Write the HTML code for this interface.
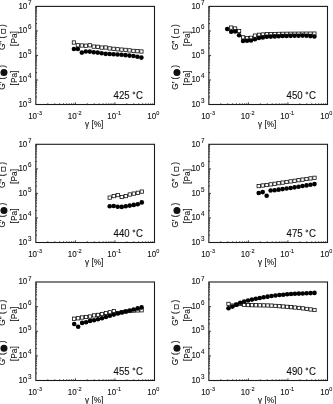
<!DOCTYPE html><html><head><meta charset="utf-8"><style>html,body{margin:0;padding:0;background:#fff;}svg{display:block;filter:grayscale(100%)}</style></head><body>
<svg width="333" height="404" viewBox="0 0 333 404" font-family='"Liberation Sans", sans-serif'>
<rect width="333" height="404" fill="#fff"/>
<g><rect x="35.85" y="6.4" width="118.65" height="98.1" fill="none" stroke="#1a1a1a" stroke-width="1.1"/><path d="M35.85 97.12h1.2M35.85 92.8h1.2M35.85 89.73h1.2M35.85 87.36h1.2M35.85 85.42h1.2M35.85 83.77h1.2M35.85 82.35h1.2M35.85 81.1h1.2M35.85 79.97h2.2M35.85 72.59h1.2M35.85 68.27h1.2M35.85 65.21h1.2M35.85 62.83h1.2M35.85 60.89h1.2M35.85 59.25h1.2M35.85 57.83h1.2M35.85 56.57h1.2M35.85 55.45h2.2M35.85 48.07h1.2M35.85 43.75h1.2M35.85 40.68h1.2M35.85 38.31h1.2M35.85 36.37h1.2M35.85 34.72h1.2M35.85 33.3h1.2M35.85 32.05h1.2M35.85 30.93h2.2M35.85 23.54h1.2M35.85 19.22h1.2M35.85 16.16h1.2M35.85 13.78h1.2M35.85 11.84h1.2M35.85 10.2h1.2M35.85 8.78h1.2M35.85 7.52h1.2M47.76 104.5v-1.2M54.72 104.5v-1.2M59.66 104.5v-1.2M63.49 104.5v-1.2M66.63 104.5v-1.2M69.27 104.5v-1.2M71.57 104.5v-1.2M73.59 104.5v-1.2M75.4 104.5v-2.2M87.31 104.5v-1.2M94.27 104.5v-1.2M99.21 104.5v-1.2M103.04 104.5v-1.2M106.18 104.5v-1.2M108.82 104.5v-1.2M111.12 104.5v-1.2M113.14 104.5v-1.2M114.95 104.5v-2.2M126.86 104.5v-1.2M133.82 104.5v-1.2M138.76 104.5v-1.2M142.59 104.5v-1.2M145.73 104.5v-1.2M148.37 104.5v-1.2M150.67 104.5v-1.2M152.69 104.5v-1.2" stroke="#1a1a1a" stroke-width="0.8" fill="none"/><text transform="translate(27.3,106.7) scale(1,1.12)" font-size="8" text-anchor="end" fill="#111" stroke="#111" stroke-width="0.1">10</text><text transform="translate(28.05,103) scale(1,1.12)" font-size="6.3" fill="#111" stroke="#111" stroke-width="0.1">3</text><text transform="translate(27.3,82.17) scale(1,1.12)" font-size="8" text-anchor="end" fill="#111" stroke="#111" stroke-width="0.1">10</text><text transform="translate(28.05,78.47) scale(1,1.12)" font-size="6.3" fill="#111" stroke="#111" stroke-width="0.1">4</text><text transform="translate(27.3,57.65) scale(1,1.12)" font-size="8" text-anchor="end" fill="#111" stroke="#111" stroke-width="0.1">10</text><text transform="translate(28.05,53.95) scale(1,1.12)" font-size="6.3" fill="#111" stroke="#111" stroke-width="0.1">5</text><text transform="translate(27.3,33.13) scale(1,1.12)" font-size="8" text-anchor="end" fill="#111" stroke="#111" stroke-width="0.1">10</text><text transform="translate(28.05,29.43) scale(1,1.12)" font-size="6.3" fill="#111" stroke="#111" stroke-width="0.1">6</text><text transform="translate(27.3,8.6) scale(1,1.12)" font-size="8" text-anchor="end" fill="#111" stroke="#111" stroke-width="0.1">10</text><text transform="translate(28.05,4.9) scale(1,1.12)" font-size="6.3" fill="#111" stroke="#111" stroke-width="0.1">7</text><text transform="translate(37.05,119.1) scale(1,1.12)" font-size="8" text-anchor="end" fill="#111" stroke="#111" stroke-width="0.1">10</text><text transform="translate(37.05,114.8) scale(1,1.1)" font-size="5.5" fill="#111" stroke="#111" stroke-width="0.1">-3</text><text transform="translate(76.6,119.1) scale(1,1.12)" font-size="8" text-anchor="end" fill="#111" stroke="#111" stroke-width="0.1">10</text><text transform="translate(76.6,114.8) scale(1,1.1)" font-size="5.5" fill="#111" stroke="#111" stroke-width="0.1">-2</text><text transform="translate(116.15,119.1) scale(1,1.12)" font-size="8" text-anchor="end" fill="#111" stroke="#111" stroke-width="0.1">10</text><text transform="translate(116.15,114.8) scale(1,1.1)" font-size="5.5" fill="#111" stroke="#111" stroke-width="0.1">-1</text><text transform="translate(156.1,119.1) scale(1,1.12)" font-size="8" text-anchor="end" fill="#111" stroke="#111" stroke-width="0.1">10</text><text transform="translate(156.2,114.8) scale(1,1.1)" font-size="5.5" fill="#111" stroke="#111" stroke-width="0.1">0</text><text x="94.18" y="126.7" font-size="8.2" text-anchor="middle" fill="#111" stroke="#111" stroke-width="0.1">γ [%]</text><text transform="translate(5.45,50.1) rotate(-90)" font-size="8.3" fill="#111" stroke="#111" stroke-width="0.1">G″ (</text><text transform="translate(5.45,26.9) rotate(-90)" font-size="8.3" fill="#111" stroke="#111" stroke-width="0.1">)</text><rect x="1.45" y="29.25" width="4" height="4" fill="#fff" stroke="#222" stroke-width="0.75"/><text transform="translate(16.65,38.5) rotate(-90)" font-size="8.3" text-anchor="middle" fill="#111" stroke="#111" stroke-width="0.1">[Pa]</text><text transform="translate(5.45,89.7) rotate(-90)" font-size="8.3" fill="#111" stroke="#111" stroke-width="0.1">G′ (</text><text transform="translate(5.45,67.65) rotate(-90)" font-size="8.3" fill="#111" stroke="#111" stroke-width="0.1">)</text><circle cx="3.95" cy="72.6" r="3.5" fill="#111"/><text transform="translate(16.65,78) rotate(-90)" font-size="8.3" text-anchor="middle" fill="#111" stroke="#111" stroke-width="0.1">[Pa]</text><text transform="translate(143,98.7) scale(1,1.06)" font-size="9.6" text-anchor="end" fill="#111" stroke="#111" stroke-width="0.1">C</text><text transform="translate(129.56,98.7) scale(1,1.06)" font-size="9.6" text-anchor="end" fill="#111" stroke="#111" stroke-width="0.1">425</text><circle cx="133.9" cy="93" r="0.95" fill="none" stroke="#111" stroke-width="0.85"/><rect x="72.25" y="40.85" width="3.3" height="3.3" fill="#fff" stroke="#000" stroke-width="0.75"/><rect x="76.22" y="43.65" width="3.3" height="3.3" fill="#fff" stroke="#000" stroke-width="0.75"/><rect x="80.19" y="43.85" width="3.3" height="3.3" fill="#fff" stroke="#000" stroke-width="0.75"/><rect x="84.16" y="44.05" width="3.3" height="3.3" fill="#fff" stroke="#000" stroke-width="0.75"/><rect x="88.13" y="43.65" width="3.3" height="3.3" fill="#fff" stroke="#000" stroke-width="0.75"/><rect x="92.1" y="44.95" width="3.3" height="3.3" fill="#fff" stroke="#000" stroke-width="0.75"/><rect x="96.07" y="45.15" width="3.3" height="3.3" fill="#fff" stroke="#000" stroke-width="0.75"/><rect x="100.04" y="45.95" width="3.3" height="3.3" fill="#fff" stroke="#000" stroke-width="0.75"/><rect x="104.01" y="45.85" width="3.3" height="3.3" fill="#fff" stroke="#000" stroke-width="0.75"/><rect x="107.99" y="46.75" width="3.3" height="3.3" fill="#fff" stroke="#000" stroke-width="0.75"/><rect x="111.96" y="47.15" width="3.3" height="3.3" fill="#fff" stroke="#000" stroke-width="0.75"/><rect x="115.93" y="47.65" width="3.3" height="3.3" fill="#fff" stroke="#000" stroke-width="0.75"/><rect x="119.9" y="47.95" width="3.3" height="3.3" fill="#fff" stroke="#000" stroke-width="0.75"/><rect x="123.87" y="48.24" width="3.3" height="3.3" fill="#fff" stroke="#000" stroke-width="0.75"/><rect x="127.84" y="48.75" width="3.3" height="3.3" fill="#fff" stroke="#000" stroke-width="0.75"/><rect x="131.81" y="49.24" width="3.3" height="3.3" fill="#fff" stroke="#000" stroke-width="0.75"/><rect x="135.78" y="49.55" width="3.3" height="3.3" fill="#fff" stroke="#000" stroke-width="0.75"/><rect x="139.75" y="49.85" width="3.3" height="3.3" fill="#fff" stroke="#000" stroke-width="0.75"/><circle cx="73.9" cy="49" r="2.3" fill="#000"/><circle cx="77.87" cy="49" r="2.3" fill="#000"/><circle cx="81.84" cy="52.6" r="2.3" fill="#000"/><circle cx="85.81" cy="51.5" r="2.3" fill="#000"/><circle cx="89.78" cy="51.6" r="2.3" fill="#000"/><circle cx="93.75" cy="52.2" r="2.3" fill="#000"/><circle cx="97.72" cy="52.6" r="2.3" fill="#000"/><circle cx="101.69" cy="53.3" r="2.3" fill="#000"/><circle cx="105.66" cy="53.83" r="2.3" fill="#000"/><circle cx="109.64" cy="54.05" r="2.3" fill="#000"/><circle cx="113.61" cy="54.28" r="2.3" fill="#000"/><circle cx="117.58" cy="54.5" r="2.3" fill="#000"/><circle cx="121.55" cy="54.76" r="2.3" fill="#000"/><circle cx="125.52" cy="55.17" r="2.3" fill="#000"/><circle cx="129.49" cy="55.58" r="2.3" fill="#000"/><circle cx="133.46" cy="56" r="2.3" fill="#000"/><circle cx="137.43" cy="56.71" r="2.3" fill="#000"/><circle cx="141.4" cy="57.6" r="2.3" fill="#000"/></g>
<g><rect x="208.85" y="6.4" width="118.65" height="98.1" fill="none" stroke="#1a1a1a" stroke-width="1.1"/><path d="M208.85 97.12h1.2M208.85 92.8h1.2M208.85 89.73h1.2M208.85 87.36h1.2M208.85 85.42h1.2M208.85 83.77h1.2M208.85 82.35h1.2M208.85 81.1h1.2M208.85 79.97h2.2M208.85 72.59h1.2M208.85 68.27h1.2M208.85 65.21h1.2M208.85 62.83h1.2M208.85 60.89h1.2M208.85 59.25h1.2M208.85 57.83h1.2M208.85 56.57h1.2M208.85 55.45h2.2M208.85 48.07h1.2M208.85 43.75h1.2M208.85 40.68h1.2M208.85 38.31h1.2M208.85 36.37h1.2M208.85 34.72h1.2M208.85 33.3h1.2M208.85 32.05h1.2M208.85 30.93h2.2M208.85 23.54h1.2M208.85 19.22h1.2M208.85 16.16h1.2M208.85 13.78h1.2M208.85 11.84h1.2M208.85 10.2h1.2M208.85 8.78h1.2M208.85 7.52h1.2M220.76 104.5v-1.2M227.72 104.5v-1.2M232.66 104.5v-1.2M236.49 104.5v-1.2M239.63 104.5v-1.2M242.27 104.5v-1.2M244.57 104.5v-1.2M246.59 104.5v-1.2M248.4 104.5v-2.2M260.31 104.5v-1.2M267.27 104.5v-1.2M272.21 104.5v-1.2M276.04 104.5v-1.2M279.18 104.5v-1.2M281.82 104.5v-1.2M284.12 104.5v-1.2M286.14 104.5v-1.2M287.95 104.5v-2.2M299.86 104.5v-1.2M306.82 104.5v-1.2M311.76 104.5v-1.2M315.59 104.5v-1.2M318.73 104.5v-1.2M321.37 104.5v-1.2M323.67 104.5v-1.2M325.69 104.5v-1.2" stroke="#1a1a1a" stroke-width="0.8" fill="none"/><text transform="translate(200.3,106.7) scale(1,1.12)" font-size="8" text-anchor="end" fill="#111" stroke="#111" stroke-width="0.1">10</text><text transform="translate(201.05,103) scale(1,1.12)" font-size="6.3" fill="#111" stroke="#111" stroke-width="0.1">3</text><text transform="translate(200.3,82.17) scale(1,1.12)" font-size="8" text-anchor="end" fill="#111" stroke="#111" stroke-width="0.1">10</text><text transform="translate(201.05,78.47) scale(1,1.12)" font-size="6.3" fill="#111" stroke="#111" stroke-width="0.1">4</text><text transform="translate(200.3,57.65) scale(1,1.12)" font-size="8" text-anchor="end" fill="#111" stroke="#111" stroke-width="0.1">10</text><text transform="translate(201.05,53.95) scale(1,1.12)" font-size="6.3" fill="#111" stroke="#111" stroke-width="0.1">5</text><text transform="translate(200.3,33.13) scale(1,1.12)" font-size="8" text-anchor="end" fill="#111" stroke="#111" stroke-width="0.1">10</text><text transform="translate(201.05,29.43) scale(1,1.12)" font-size="6.3" fill="#111" stroke="#111" stroke-width="0.1">6</text><text transform="translate(200.3,8.6) scale(1,1.12)" font-size="8" text-anchor="end" fill="#111" stroke="#111" stroke-width="0.1">10</text><text transform="translate(201.05,4.9) scale(1,1.12)" font-size="6.3" fill="#111" stroke="#111" stroke-width="0.1">7</text><text transform="translate(210.05,119.1) scale(1,1.12)" font-size="8" text-anchor="end" fill="#111" stroke="#111" stroke-width="0.1">10</text><text transform="translate(210.05,114.8) scale(1,1.1)" font-size="5.5" fill="#111" stroke="#111" stroke-width="0.1">-3</text><text transform="translate(249.6,119.1) scale(1,1.12)" font-size="8" text-anchor="end" fill="#111" stroke="#111" stroke-width="0.1">10</text><text transform="translate(249.6,114.8) scale(1,1.1)" font-size="5.5" fill="#111" stroke="#111" stroke-width="0.1">-2</text><text transform="translate(289.15,119.1) scale(1,1.12)" font-size="8" text-anchor="end" fill="#111" stroke="#111" stroke-width="0.1">10</text><text transform="translate(289.15,114.8) scale(1,1.1)" font-size="5.5" fill="#111" stroke="#111" stroke-width="0.1">-1</text><text transform="translate(329.1,119.1) scale(1,1.12)" font-size="8" text-anchor="end" fill="#111" stroke="#111" stroke-width="0.1">10</text><text transform="translate(329.2,114.8) scale(1,1.1)" font-size="5.5" fill="#111" stroke="#111" stroke-width="0.1">0</text><text x="267.18" y="126.7" font-size="8.2" text-anchor="middle" fill="#111" stroke="#111" stroke-width="0.1">γ [%]</text><text transform="translate(178.45,50.1) rotate(-90)" font-size="8.3" fill="#111" stroke="#111" stroke-width="0.1">G″ (</text><text transform="translate(178.45,26.9) rotate(-90)" font-size="8.3" fill="#111" stroke="#111" stroke-width="0.1">)</text><rect x="174.45" y="29.25" width="4" height="4" fill="#fff" stroke="#222" stroke-width="0.75"/><text transform="translate(189.65,38.5) rotate(-90)" font-size="8.3" text-anchor="middle" fill="#111" stroke="#111" stroke-width="0.1">[Pa]</text><text transform="translate(178.45,89.7) rotate(-90)" font-size="8.3" fill="#111" stroke="#111" stroke-width="0.1">G′ (</text><text transform="translate(178.45,67.65) rotate(-90)" font-size="8.3" fill="#111" stroke="#111" stroke-width="0.1">)</text><circle cx="176.95" cy="72.6" r="3.5" fill="#111"/><text transform="translate(189.65,78) rotate(-90)" font-size="8.3" text-anchor="middle" fill="#111" stroke="#111" stroke-width="0.1">[Pa]</text><text transform="translate(316,98.7) scale(1,1.06)" font-size="9.6" text-anchor="end" fill="#111" stroke="#111" stroke-width="0.1">C</text><text transform="translate(302.56,98.7) scale(1,1.06)" font-size="9.6" text-anchor="end" fill="#111" stroke="#111" stroke-width="0.1">450</text><circle cx="306.9" cy="93" r="0.95" fill="none" stroke="#111" stroke-width="0.85"/><rect x="229.51" y="25.95" width="3.3" height="3.3" fill="#fff" stroke="#000" stroke-width="0.75"/><rect x="233.48" y="26.85" width="3.3" height="3.3" fill="#fff" stroke="#000" stroke-width="0.75"/><rect x="237.44" y="29.35" width="3.3" height="3.3" fill="#fff" stroke="#000" stroke-width="0.75"/><rect x="241.4" y="35.75" width="3.3" height="3.3" fill="#fff" stroke="#000" stroke-width="0.75"/><rect x="245.37" y="36.35" width="3.3" height="3.3" fill="#fff" stroke="#000" stroke-width="0.75"/><rect x="249.33" y="36.15" width="3.3" height="3.3" fill="#fff" stroke="#000" stroke-width="0.75"/><rect x="253.3" y="33.95" width="3.3" height="3.3" fill="#fff" stroke="#000" stroke-width="0.75"/><rect x="257.26" y="33.15" width="3.3" height="3.3" fill="#fff" stroke="#000" stroke-width="0.75"/><rect x="261.22" y="32.85" width="3.3" height="3.3" fill="#fff" stroke="#000" stroke-width="0.75"/><rect x="265.19" y="32.55" width="3.3" height="3.3" fill="#fff" stroke="#000" stroke-width="0.75"/><rect x="269.15" y="32.46" width="3.3" height="3.3" fill="#fff" stroke="#000" stroke-width="0.75"/><rect x="273.11" y="32.36" width="3.3" height="3.3" fill="#fff" stroke="#000" stroke-width="0.75"/><rect x="277.08" y="32.26" width="3.3" height="3.3" fill="#fff" stroke="#000" stroke-width="0.75"/><rect x="281.04" y="32.16" width="3.3" height="3.3" fill="#fff" stroke="#000" stroke-width="0.75"/><rect x="285" y="32.13" width="3.3" height="3.3" fill="#fff" stroke="#000" stroke-width="0.75"/><rect x="288.97" y="32.1" width="3.3" height="3.3" fill="#fff" stroke="#000" stroke-width="0.75"/><rect x="292.93" y="32.08" width="3.3" height="3.3" fill="#fff" stroke="#000" stroke-width="0.75"/><rect x="296.9" y="32.05" width="3.3" height="3.3" fill="#fff" stroke="#000" stroke-width="0.75"/><rect x="300.86" y="32.03" width="3.3" height="3.3" fill="#fff" stroke="#000" stroke-width="0.75"/><rect x="304.82" y="32" width="3.3" height="3.3" fill="#fff" stroke="#000" stroke-width="0.75"/><rect x="308.79" y="31.98" width="3.3" height="3.3" fill="#fff" stroke="#000" stroke-width="0.75"/><rect x="312.75" y="31.95" width="3.3" height="3.3" fill="#fff" stroke="#000" stroke-width="0.75"/><circle cx="227.2" cy="29" r="2.3" fill="#000"/><circle cx="231.16" cy="31.7" r="2.3" fill="#000"/><circle cx="235.13" cy="31.4" r="2.3" fill="#000"/><circle cx="239.09" cy="35.3" r="2.3" fill="#000"/><circle cx="243.05" cy="41" r="2.3" fill="#000"/><circle cx="247.02" cy="40.8" r="2.3" fill="#000"/><circle cx="250.98" cy="40.5" r="2.3" fill="#000"/><circle cx="254.95" cy="39.2" r="2.3" fill="#000"/><circle cx="258.91" cy="37.9" r="2.3" fill="#000"/><circle cx="262.87" cy="37.4" r="2.3" fill="#000"/><circle cx="266.84" cy="36.8" r="2.3" fill="#000"/><circle cx="270.8" cy="36.61" r="2.3" fill="#000"/><circle cx="274.76" cy="36.41" r="2.3" fill="#000"/><circle cx="278.73" cy="36.21" r="2.3" fill="#000"/><circle cx="282.69" cy="36.02" r="2.3" fill="#000"/><circle cx="286.65" cy="35.93" r="2.3" fill="#000"/><circle cx="290.62" cy="35.84" r="2.3" fill="#000"/><circle cx="294.58" cy="35.76" r="2.3" fill="#000"/><circle cx="298.55" cy="35.68" r="2.3" fill="#000"/><circle cx="302.51" cy="35.6" r="2.3" fill="#000"/><circle cx="306.47" cy="35.8" r="2.3" fill="#000"/><circle cx="310.44" cy="36.1" r="2.3" fill="#000"/><circle cx="314.4" cy="36.5" r="2.3" fill="#000"/></g>
<g><rect x="35.85" y="144.3" width="118.65" height="98.2" fill="none" stroke="#1a1a1a" stroke-width="1.1"/><path d="M35.85 235.11h1.2M35.85 230.79h1.2M35.85 227.72h1.2M35.85 225.34h1.2M35.85 223.4h1.2M35.85 221.75h1.2M35.85 220.33h1.2M35.85 219.07h1.2M35.85 217.95h2.2M35.85 210.56h1.2M35.85 206.24h1.2M35.85 203.17h1.2M35.85 200.79h1.2M35.85 198.85h1.2M35.85 197.2h1.2M35.85 195.78h1.2M35.85 194.52h1.2M35.85 193.4h2.2M35.85 186.01h1.2M35.85 181.69h1.2M35.85 178.62h1.2M35.85 176.24h1.2M35.85 174.3h1.2M35.85 172.65h1.2M35.85 171.23h1.2M35.85 169.97h1.2M35.85 168.85h2.2M35.85 161.46h1.2M35.85 157.14h1.2M35.85 154.07h1.2M35.85 151.69h1.2M35.85 149.75h1.2M35.85 148.1h1.2M35.85 146.68h1.2M35.85 145.42h1.2M47.76 242.5v-1.2M54.72 242.5v-1.2M59.66 242.5v-1.2M63.49 242.5v-1.2M66.63 242.5v-1.2M69.27 242.5v-1.2M71.57 242.5v-1.2M73.59 242.5v-1.2M75.4 242.5v-2.2M87.31 242.5v-1.2M94.27 242.5v-1.2M99.21 242.5v-1.2M103.04 242.5v-1.2M106.18 242.5v-1.2M108.82 242.5v-1.2M111.12 242.5v-1.2M113.14 242.5v-1.2M114.95 242.5v-2.2M126.86 242.5v-1.2M133.82 242.5v-1.2M138.76 242.5v-1.2M142.59 242.5v-1.2M145.73 242.5v-1.2M148.37 242.5v-1.2M150.67 242.5v-1.2M152.69 242.5v-1.2" stroke="#1a1a1a" stroke-width="0.8" fill="none"/><text transform="translate(27.3,244.7) scale(1,1.12)" font-size="8" text-anchor="end" fill="#111" stroke="#111" stroke-width="0.1">10</text><text transform="translate(28.05,241) scale(1,1.12)" font-size="6.3" fill="#111" stroke="#111" stroke-width="0.1">3</text><text transform="translate(27.3,220.15) scale(1,1.12)" font-size="8" text-anchor="end" fill="#111" stroke="#111" stroke-width="0.1">10</text><text transform="translate(28.05,216.45) scale(1,1.12)" font-size="6.3" fill="#111" stroke="#111" stroke-width="0.1">4</text><text transform="translate(27.3,195.6) scale(1,1.12)" font-size="8" text-anchor="end" fill="#111" stroke="#111" stroke-width="0.1">10</text><text transform="translate(28.05,191.9) scale(1,1.12)" font-size="6.3" fill="#111" stroke="#111" stroke-width="0.1">5</text><text transform="translate(27.3,171.05) scale(1,1.12)" font-size="8" text-anchor="end" fill="#111" stroke="#111" stroke-width="0.1">10</text><text transform="translate(28.05,167.35) scale(1,1.12)" font-size="6.3" fill="#111" stroke="#111" stroke-width="0.1">6</text><text transform="translate(27.3,146.5) scale(1,1.12)" font-size="8" text-anchor="end" fill="#111" stroke="#111" stroke-width="0.1">10</text><text transform="translate(28.05,142.8) scale(1,1.12)" font-size="6.3" fill="#111" stroke="#111" stroke-width="0.1">7</text><text transform="translate(37.05,257.1) scale(1,1.12)" font-size="8" text-anchor="end" fill="#111" stroke="#111" stroke-width="0.1">10</text><text transform="translate(37.05,252.8) scale(1,1.1)" font-size="5.5" fill="#111" stroke="#111" stroke-width="0.1">-3</text><text transform="translate(76.6,257.1) scale(1,1.12)" font-size="8" text-anchor="end" fill="#111" stroke="#111" stroke-width="0.1">10</text><text transform="translate(76.6,252.8) scale(1,1.1)" font-size="5.5" fill="#111" stroke="#111" stroke-width="0.1">-2</text><text transform="translate(116.15,257.1) scale(1,1.12)" font-size="8" text-anchor="end" fill="#111" stroke="#111" stroke-width="0.1">10</text><text transform="translate(116.15,252.8) scale(1,1.1)" font-size="5.5" fill="#111" stroke="#111" stroke-width="0.1">-1</text><text transform="translate(156.1,257.1) scale(1,1.12)" font-size="8" text-anchor="end" fill="#111" stroke="#111" stroke-width="0.1">10</text><text transform="translate(156.2,252.8) scale(1,1.1)" font-size="5.5" fill="#111" stroke="#111" stroke-width="0.1">0</text><text x="94.18" y="264.7" font-size="8.2" text-anchor="middle" fill="#111" stroke="#111" stroke-width="0.1">γ [%]</text><text transform="translate(5.45,188) rotate(-90)" font-size="8.3" fill="#111" stroke="#111" stroke-width="0.1">G″ (</text><text transform="translate(5.45,164.8) rotate(-90)" font-size="8.3" fill="#111" stroke="#111" stroke-width="0.1">)</text><rect x="1.45" y="167.15" width="4" height="4" fill="#fff" stroke="#222" stroke-width="0.75"/><text transform="translate(16.65,176.4) rotate(-90)" font-size="8.3" text-anchor="middle" fill="#111" stroke="#111" stroke-width="0.1">[Pa]</text><text transform="translate(5.45,227.6) rotate(-90)" font-size="8.3" fill="#111" stroke="#111" stroke-width="0.1">G′ (</text><text transform="translate(5.45,205.55) rotate(-90)" font-size="8.3" fill="#111" stroke="#111" stroke-width="0.1">)</text><circle cx="3.95" cy="210.5" r="3.5" fill="#111"/><text transform="translate(16.65,215.9) rotate(-90)" font-size="8.3" text-anchor="middle" fill="#111" stroke="#111" stroke-width="0.1">[Pa]</text><text transform="translate(143,236.7) scale(1,1.06)" font-size="9.6" text-anchor="end" fill="#111" stroke="#111" stroke-width="0.1">C</text><text transform="translate(129.56,236.7) scale(1,1.06)" font-size="9.6" text-anchor="end" fill="#111" stroke="#111" stroke-width="0.1">440</text><circle cx="133.9" cy="231" r="0.95" fill="none" stroke="#111" stroke-width="0.85"/><rect x="108.05" y="195.95" width="3.3" height="3.3" fill="#fff" stroke="#000" stroke-width="0.75"/><rect x="112.06" y="194.45" width="3.3" height="3.3" fill="#fff" stroke="#000" stroke-width="0.75"/><rect x="116.08" y="193.45" width="3.3" height="3.3" fill="#fff" stroke="#000" stroke-width="0.75"/><rect x="120.09" y="195.35" width="3.3" height="3.3" fill="#fff" stroke="#000" stroke-width="0.75"/><rect x="124.1" y="194.45" width="3.3" height="3.3" fill="#fff" stroke="#000" stroke-width="0.75"/><rect x="128.11" y="192.85" width="3.3" height="3.3" fill="#fff" stroke="#000" stroke-width="0.75"/><rect x="132.12" y="191.95" width="3.3" height="3.3" fill="#fff" stroke="#000" stroke-width="0.75"/><rect x="136.14" y="191.15" width="3.3" height="3.3" fill="#fff" stroke="#000" stroke-width="0.75"/><rect x="140.15" y="189.95" width="3.3" height="3.3" fill="#fff" stroke="#000" stroke-width="0.75"/><circle cx="109.7" cy="206.2" r="2.3" fill="#000"/><circle cx="113.71" cy="206" r="2.3" fill="#000"/><circle cx="117.73" cy="206.8" r="2.3" fill="#000"/><circle cx="121.74" cy="206.9" r="2.3" fill="#000"/><circle cx="125.75" cy="206.2" r="2.3" fill="#000"/><circle cx="129.76" cy="205.6" r="2.3" fill="#000"/><circle cx="133.78" cy="204.9" r="2.3" fill="#000"/><circle cx="137.79" cy="204.3" r="2.3" fill="#000"/><circle cx="141.8" cy="202.4" r="2.3" fill="#000"/></g>
<g><rect x="208.85" y="144.3" width="118.65" height="98.2" fill="none" stroke="#1a1a1a" stroke-width="1.1"/><path d="M208.85 235.11h1.2M208.85 230.79h1.2M208.85 227.72h1.2M208.85 225.34h1.2M208.85 223.4h1.2M208.85 221.75h1.2M208.85 220.33h1.2M208.85 219.07h1.2M208.85 217.95h2.2M208.85 210.56h1.2M208.85 206.24h1.2M208.85 203.17h1.2M208.85 200.79h1.2M208.85 198.85h1.2M208.85 197.2h1.2M208.85 195.78h1.2M208.85 194.52h1.2M208.85 193.4h2.2M208.85 186.01h1.2M208.85 181.69h1.2M208.85 178.62h1.2M208.85 176.24h1.2M208.85 174.3h1.2M208.85 172.65h1.2M208.85 171.23h1.2M208.85 169.97h1.2M208.85 168.85h2.2M208.85 161.46h1.2M208.85 157.14h1.2M208.85 154.07h1.2M208.85 151.69h1.2M208.85 149.75h1.2M208.85 148.1h1.2M208.85 146.68h1.2M208.85 145.42h1.2M220.76 242.5v-1.2M227.72 242.5v-1.2M232.66 242.5v-1.2M236.49 242.5v-1.2M239.63 242.5v-1.2M242.27 242.5v-1.2M244.57 242.5v-1.2M246.59 242.5v-1.2M248.4 242.5v-2.2M260.31 242.5v-1.2M267.27 242.5v-1.2M272.21 242.5v-1.2M276.04 242.5v-1.2M279.18 242.5v-1.2M281.82 242.5v-1.2M284.12 242.5v-1.2M286.14 242.5v-1.2M287.95 242.5v-2.2M299.86 242.5v-1.2M306.82 242.5v-1.2M311.76 242.5v-1.2M315.59 242.5v-1.2M318.73 242.5v-1.2M321.37 242.5v-1.2M323.67 242.5v-1.2M325.69 242.5v-1.2" stroke="#1a1a1a" stroke-width="0.8" fill="none"/><text transform="translate(200.3,244.7) scale(1,1.12)" font-size="8" text-anchor="end" fill="#111" stroke="#111" stroke-width="0.1">10</text><text transform="translate(201.05,241) scale(1,1.12)" font-size="6.3" fill="#111" stroke="#111" stroke-width="0.1">3</text><text transform="translate(200.3,220.15) scale(1,1.12)" font-size="8" text-anchor="end" fill="#111" stroke="#111" stroke-width="0.1">10</text><text transform="translate(201.05,216.45) scale(1,1.12)" font-size="6.3" fill="#111" stroke="#111" stroke-width="0.1">4</text><text transform="translate(200.3,195.6) scale(1,1.12)" font-size="8" text-anchor="end" fill="#111" stroke="#111" stroke-width="0.1">10</text><text transform="translate(201.05,191.9) scale(1,1.12)" font-size="6.3" fill="#111" stroke="#111" stroke-width="0.1">5</text><text transform="translate(200.3,171.05) scale(1,1.12)" font-size="8" text-anchor="end" fill="#111" stroke="#111" stroke-width="0.1">10</text><text transform="translate(201.05,167.35) scale(1,1.12)" font-size="6.3" fill="#111" stroke="#111" stroke-width="0.1">6</text><text transform="translate(200.3,146.5) scale(1,1.12)" font-size="8" text-anchor="end" fill="#111" stroke="#111" stroke-width="0.1">10</text><text transform="translate(201.05,142.8) scale(1,1.12)" font-size="6.3" fill="#111" stroke="#111" stroke-width="0.1">7</text><text transform="translate(210.05,257.1) scale(1,1.12)" font-size="8" text-anchor="end" fill="#111" stroke="#111" stroke-width="0.1">10</text><text transform="translate(210.05,252.8) scale(1,1.1)" font-size="5.5" fill="#111" stroke="#111" stroke-width="0.1">-3</text><text transform="translate(249.6,257.1) scale(1,1.12)" font-size="8" text-anchor="end" fill="#111" stroke="#111" stroke-width="0.1">10</text><text transform="translate(249.6,252.8) scale(1,1.1)" font-size="5.5" fill="#111" stroke="#111" stroke-width="0.1">-2</text><text transform="translate(289.15,257.1) scale(1,1.12)" font-size="8" text-anchor="end" fill="#111" stroke="#111" stroke-width="0.1">10</text><text transform="translate(289.15,252.8) scale(1,1.1)" font-size="5.5" fill="#111" stroke="#111" stroke-width="0.1">-1</text><text transform="translate(329.1,257.1) scale(1,1.12)" font-size="8" text-anchor="end" fill="#111" stroke="#111" stroke-width="0.1">10</text><text transform="translate(329.2,252.8) scale(1,1.1)" font-size="5.5" fill="#111" stroke="#111" stroke-width="0.1">0</text><text x="267.18" y="264.7" font-size="8.2" text-anchor="middle" fill="#111" stroke="#111" stroke-width="0.1">γ [%]</text><text transform="translate(178.45,188) rotate(-90)" font-size="8.3" fill="#111" stroke="#111" stroke-width="0.1">G″ (</text><text transform="translate(178.45,164.8) rotate(-90)" font-size="8.3" fill="#111" stroke="#111" stroke-width="0.1">)</text><rect x="174.45" y="167.15" width="4" height="4" fill="#fff" stroke="#222" stroke-width="0.75"/><text transform="translate(189.65,176.4) rotate(-90)" font-size="8.3" text-anchor="middle" fill="#111" stroke="#111" stroke-width="0.1">[Pa]</text><text transform="translate(178.45,227.6) rotate(-90)" font-size="8.3" fill="#111" stroke="#111" stroke-width="0.1">G′ (</text><text transform="translate(178.45,205.55) rotate(-90)" font-size="8.3" fill="#111" stroke="#111" stroke-width="0.1">)</text><circle cx="176.95" cy="210.5" r="3.5" fill="#111"/><text transform="translate(189.65,215.9) rotate(-90)" font-size="8.3" text-anchor="middle" fill="#111" stroke="#111" stroke-width="0.1">[Pa]</text><text transform="translate(316,236.7) scale(1,1.06)" font-size="9.6" text-anchor="end" fill="#111" stroke="#111" stroke-width="0.1">C</text><text transform="translate(302.56,236.7) scale(1,1.06)" font-size="9.6" text-anchor="end" fill="#111" stroke="#111" stroke-width="0.1">475</text><circle cx="306.9" cy="231" r="0.95" fill="none" stroke="#111" stroke-width="0.85"/><rect x="257.05" y="184.45" width="3.3" height="3.3" fill="#fff" stroke="#000" stroke-width="0.75"/><rect x="261.04" y="183.85" width="3.3" height="3.3" fill="#fff" stroke="#000" stroke-width="0.75"/><rect x="265.02" y="183.35" width="3.3" height="3.3" fill="#fff" stroke="#000" stroke-width="0.75"/><rect x="269.01" y="182.74" width="3.3" height="3.3" fill="#fff" stroke="#000" stroke-width="0.75"/><rect x="272.99" y="182.14" width="3.3" height="3.3" fill="#fff" stroke="#000" stroke-width="0.75"/><rect x="276.98" y="181.54" width="3.3" height="3.3" fill="#fff" stroke="#000" stroke-width="0.75"/><rect x="280.96" y="180.94" width="3.3" height="3.3" fill="#fff" stroke="#000" stroke-width="0.75"/><rect x="284.95" y="180.34" width="3.3" height="3.3" fill="#fff" stroke="#000" stroke-width="0.75"/><rect x="288.94" y="179.75" width="3.3" height="3.3" fill="#fff" stroke="#000" stroke-width="0.75"/><rect x="292.92" y="179.15" width="3.3" height="3.3" fill="#fff" stroke="#000" stroke-width="0.75"/><rect x="296.91" y="178.55" width="3.3" height="3.3" fill="#fff" stroke="#000" stroke-width="0.75"/><rect x="300.89" y="177.95" width="3.3" height="3.3" fill="#fff" stroke="#000" stroke-width="0.75"/><rect x="304.88" y="177.35" width="3.3" height="3.3" fill="#fff" stroke="#000" stroke-width="0.75"/><rect x="308.86" y="176.75" width="3.3" height="3.3" fill="#fff" stroke="#000" stroke-width="0.75"/><rect x="312.85" y="176.15" width="3.3" height="3.3" fill="#fff" stroke="#000" stroke-width="0.75"/><circle cx="258.7" cy="193" r="2.3" fill="#000"/><circle cx="262.69" cy="192.1" r="2.3" fill="#000"/><circle cx="266.67" cy="195.8" r="2.3" fill="#000"/><circle cx="270.66" cy="190.5" r="2.3" fill="#000"/><circle cx="274.64" cy="190.19" r="2.3" fill="#000"/><circle cx="278.63" cy="189.64" r="2.3" fill="#000"/><circle cx="282.61" cy="189.09" r="2.3" fill="#000"/><circle cx="286.6" cy="188.54" r="2.3" fill="#000"/><circle cx="290.59" cy="187.99" r="2.3" fill="#000"/><circle cx="294.57" cy="187.34" r="2.3" fill="#000"/><circle cx="298.56" cy="186.69" r="2.3" fill="#000"/><circle cx="302.54" cy="186.04" r="2.3" fill="#000"/><circle cx="306.53" cy="185.4" r="2.3" fill="#000"/><circle cx="310.51" cy="184.75" r="2.3" fill="#000"/><circle cx="314.5" cy="184.1" r="2.3" fill="#000"/></g>
<g><rect x="35.85" y="282" width="118.65" height="98.5" fill="none" stroke="#1a1a1a" stroke-width="1.1"/><path d="M35.85 373.09h1.2M35.85 368.75h1.2M35.85 365.67h1.2M35.85 363.29h1.2M35.85 361.34h1.2M35.85 359.69h1.2M35.85 358.26h1.2M35.85 357h1.2M35.85 355.88h2.2M35.85 348.46h1.2M35.85 344.13h1.2M35.85 341.05h1.2M35.85 338.66h1.2M35.85 336.71h1.2M35.85 335.06h1.2M35.85 333.64h1.2M35.85 332.38h1.2M35.85 331.25h2.2M35.85 323.84h1.2M35.85 319.5h1.2M35.85 316.42h1.2M35.85 314.04h1.2M35.85 312.09h1.2M35.85 310.44h1.2M35.85 309.01h1.2M35.85 307.75h1.2M35.85 306.62h2.2M35.85 299.21h1.2M35.85 294.88h1.2M35.85 291.8h1.2M35.85 289.41h1.2M35.85 287.46h1.2M35.85 285.81h1.2M35.85 284.39h1.2M35.85 283.13h1.2M47.76 380.5v-1.2M54.72 380.5v-1.2M59.66 380.5v-1.2M63.49 380.5v-1.2M66.63 380.5v-1.2M69.27 380.5v-1.2M71.57 380.5v-1.2M73.59 380.5v-1.2M75.4 380.5v-2.2M87.31 380.5v-1.2M94.27 380.5v-1.2M99.21 380.5v-1.2M103.04 380.5v-1.2M106.18 380.5v-1.2M108.82 380.5v-1.2M111.12 380.5v-1.2M113.14 380.5v-1.2M114.95 380.5v-2.2M126.86 380.5v-1.2M133.82 380.5v-1.2M138.76 380.5v-1.2M142.59 380.5v-1.2M145.73 380.5v-1.2M148.37 380.5v-1.2M150.67 380.5v-1.2M152.69 380.5v-1.2" stroke="#1a1a1a" stroke-width="0.8" fill="none"/><text transform="translate(27.3,382.7) scale(1,1.12)" font-size="8" text-anchor="end" fill="#111" stroke="#111" stroke-width="0.1">10</text><text transform="translate(28.05,379) scale(1,1.12)" font-size="6.3" fill="#111" stroke="#111" stroke-width="0.1">3</text><text transform="translate(27.3,358.07) scale(1,1.12)" font-size="8" text-anchor="end" fill="#111" stroke="#111" stroke-width="0.1">10</text><text transform="translate(28.05,354.38) scale(1,1.12)" font-size="6.3" fill="#111" stroke="#111" stroke-width="0.1">4</text><text transform="translate(27.3,333.45) scale(1,1.12)" font-size="8" text-anchor="end" fill="#111" stroke="#111" stroke-width="0.1">10</text><text transform="translate(28.05,329.75) scale(1,1.12)" font-size="6.3" fill="#111" stroke="#111" stroke-width="0.1">5</text><text transform="translate(27.3,308.82) scale(1,1.12)" font-size="8" text-anchor="end" fill="#111" stroke="#111" stroke-width="0.1">10</text><text transform="translate(28.05,305.12) scale(1,1.12)" font-size="6.3" fill="#111" stroke="#111" stroke-width="0.1">6</text><text transform="translate(27.3,284.2) scale(1,1.12)" font-size="8" text-anchor="end" fill="#111" stroke="#111" stroke-width="0.1">10</text><text transform="translate(28.05,280.5) scale(1,1.12)" font-size="6.3" fill="#111" stroke="#111" stroke-width="0.1">7</text><text transform="translate(37.05,395.1) scale(1,1.12)" font-size="8" text-anchor="end" fill="#111" stroke="#111" stroke-width="0.1">10</text><text transform="translate(37.05,390.8) scale(1,1.1)" font-size="5.5" fill="#111" stroke="#111" stroke-width="0.1">-3</text><text transform="translate(76.6,395.1) scale(1,1.12)" font-size="8" text-anchor="end" fill="#111" stroke="#111" stroke-width="0.1">10</text><text transform="translate(76.6,390.8) scale(1,1.1)" font-size="5.5" fill="#111" stroke="#111" stroke-width="0.1">-2</text><text transform="translate(116.15,395.1) scale(1,1.12)" font-size="8" text-anchor="end" fill="#111" stroke="#111" stroke-width="0.1">10</text><text transform="translate(116.15,390.8) scale(1,1.1)" font-size="5.5" fill="#111" stroke="#111" stroke-width="0.1">-1</text><text transform="translate(156.1,395.1) scale(1,1.12)" font-size="8" text-anchor="end" fill="#111" stroke="#111" stroke-width="0.1">10</text><text transform="translate(156.2,390.8) scale(1,1.1)" font-size="5.5" fill="#111" stroke="#111" stroke-width="0.1">0</text><text x="94.18" y="402.7" font-size="8.2" text-anchor="middle" fill="#111" stroke="#111" stroke-width="0.1">γ [%]</text><text transform="translate(5.45,325.7) rotate(-90)" font-size="8.3" fill="#111" stroke="#111" stroke-width="0.1">G″ (</text><text transform="translate(5.45,302.5) rotate(-90)" font-size="8.3" fill="#111" stroke="#111" stroke-width="0.1">)</text><rect x="1.45" y="304.85" width="4" height="4" fill="#fff" stroke="#222" stroke-width="0.75"/><text transform="translate(16.65,314.1) rotate(-90)" font-size="8.3" text-anchor="middle" fill="#111" stroke="#111" stroke-width="0.1">[Pa]</text><text transform="translate(5.45,365.3) rotate(-90)" font-size="8.3" fill="#111" stroke="#111" stroke-width="0.1">G′ (</text><text transform="translate(5.45,343.25) rotate(-90)" font-size="8.3" fill="#111" stroke="#111" stroke-width="0.1">)</text><circle cx="3.95" cy="348.2" r="3.5" fill="#111"/><text transform="translate(16.65,353.6) rotate(-90)" font-size="8.3" text-anchor="middle" fill="#111" stroke="#111" stroke-width="0.1">[Pa]</text><text transform="translate(143,374.7) scale(1,1.06)" font-size="9.6" text-anchor="end" fill="#111" stroke="#111" stroke-width="0.1">C</text><text transform="translate(129.56,374.7) scale(1,1.06)" font-size="9.6" text-anchor="end" fill="#111" stroke="#111" stroke-width="0.1">455</text><circle cx="133.9" cy="369" r="0.95" fill="none" stroke="#111" stroke-width="0.85"/><rect x="72.55" y="317.05" width="3.3" height="3.3" fill="#fff" stroke="#000" stroke-width="0.75"/><rect x="76.51" y="316.65" width="3.3" height="3.3" fill="#fff" stroke="#000" stroke-width="0.75"/><rect x="80.48" y="315.85" width="3.3" height="3.3" fill="#fff" stroke="#000" stroke-width="0.75"/><rect x="84.44" y="315.35" width="3.3" height="3.3" fill="#fff" stroke="#000" stroke-width="0.75"/><rect x="88.41" y="314.85" width="3.3" height="3.3" fill="#fff" stroke="#000" stroke-width="0.75"/><rect x="92.37" y="313.75" width="3.3" height="3.3" fill="#fff" stroke="#000" stroke-width="0.75"/><rect x="96.34" y="313.25" width="3.3" height="3.3" fill="#fff" stroke="#000" stroke-width="0.75"/><rect x="100.3" y="312.35" width="3.3" height="3.3" fill="#fff" stroke="#000" stroke-width="0.75"/><rect x="104.27" y="311.35" width="3.3" height="3.3" fill="#fff" stroke="#000" stroke-width="0.75"/><rect x="108.23" y="310.65" width="3.3" height="3.3" fill="#fff" stroke="#000" stroke-width="0.75"/><rect x="112.2" y="309.55" width="3.3" height="3.3" fill="#fff" stroke="#000" stroke-width="0.75"/><rect x="116.16" y="311.35" width="3.3" height="3.3" fill="#fff" stroke="#000" stroke-width="0.75"/><rect x="120.13" y="310.55" width="3.3" height="3.3" fill="#fff" stroke="#000" stroke-width="0.75"/><rect x="124.09" y="309.85" width="3.3" height="3.3" fill="#fff" stroke="#000" stroke-width="0.75"/><rect x="128.06" y="309.35" width="3.3" height="3.3" fill="#fff" stroke="#000" stroke-width="0.75"/><rect x="132.02" y="308.95" width="3.3" height="3.3" fill="#fff" stroke="#000" stroke-width="0.75"/><rect x="135.99" y="308.75" width="3.3" height="3.3" fill="#fff" stroke="#000" stroke-width="0.75"/><rect x="139.95" y="308.65" width="3.3" height="3.3" fill="#fff" stroke="#000" stroke-width="0.75"/><circle cx="74.2" cy="324" r="2.3" fill="#000"/><circle cx="78.16" cy="326.8" r="2.3" fill="#000"/><circle cx="82.13" cy="322.9" r="2.3" fill="#000"/><circle cx="86.09" cy="322.2" r="2.3" fill="#000"/><circle cx="90.06" cy="320.9" r="2.3" fill="#000"/><circle cx="94.02" cy="320.3" r="2.3" fill="#000"/><circle cx="97.99" cy="319.2" r="2.3" fill="#000"/><circle cx="101.95" cy="318.2" r="2.3" fill="#000"/><circle cx="105.92" cy="317" r="2.3" fill="#000"/><circle cx="109.88" cy="315.8" r="2.3" fill="#000"/><circle cx="113.85" cy="314.6" r="2.3" fill="#000"/><circle cx="117.81" cy="313.5" r="2.3" fill="#000"/><circle cx="121.78" cy="312.48" r="2.3" fill="#000"/><circle cx="125.74" cy="311.46" r="2.3" fill="#000"/><circle cx="129.71" cy="310.45" r="2.3" fill="#000"/><circle cx="133.67" cy="309.43" r="2.3" fill="#000"/><circle cx="137.64" cy="308.42" r="2.3" fill="#000"/><circle cx="141.6" cy="307.4" r="2.3" fill="#000"/></g>
<g><rect x="208.85" y="282" width="118.65" height="98.5" fill="none" stroke="#1a1a1a" stroke-width="1.1"/><path d="M208.85 373.09h1.2M208.85 368.75h1.2M208.85 365.67h1.2M208.85 363.29h1.2M208.85 361.34h1.2M208.85 359.69h1.2M208.85 358.26h1.2M208.85 357h1.2M208.85 355.88h2.2M208.85 348.46h1.2M208.85 344.13h1.2M208.85 341.05h1.2M208.85 338.66h1.2M208.85 336.71h1.2M208.85 335.06h1.2M208.85 333.64h1.2M208.85 332.38h1.2M208.85 331.25h2.2M208.85 323.84h1.2M208.85 319.5h1.2M208.85 316.42h1.2M208.85 314.04h1.2M208.85 312.09h1.2M208.85 310.44h1.2M208.85 309.01h1.2M208.85 307.75h1.2M208.85 306.62h2.2M208.85 299.21h1.2M208.85 294.88h1.2M208.85 291.8h1.2M208.85 289.41h1.2M208.85 287.46h1.2M208.85 285.81h1.2M208.85 284.39h1.2M208.85 283.13h1.2M220.76 380.5v-1.2M227.72 380.5v-1.2M232.66 380.5v-1.2M236.49 380.5v-1.2M239.63 380.5v-1.2M242.27 380.5v-1.2M244.57 380.5v-1.2M246.59 380.5v-1.2M248.4 380.5v-2.2M260.31 380.5v-1.2M267.27 380.5v-1.2M272.21 380.5v-1.2M276.04 380.5v-1.2M279.18 380.5v-1.2M281.82 380.5v-1.2M284.12 380.5v-1.2M286.14 380.5v-1.2M287.95 380.5v-2.2M299.86 380.5v-1.2M306.82 380.5v-1.2M311.76 380.5v-1.2M315.59 380.5v-1.2M318.73 380.5v-1.2M321.37 380.5v-1.2M323.67 380.5v-1.2M325.69 380.5v-1.2" stroke="#1a1a1a" stroke-width="0.8" fill="none"/><text transform="translate(200.3,382.7) scale(1,1.12)" font-size="8" text-anchor="end" fill="#111" stroke="#111" stroke-width="0.1">10</text><text transform="translate(201.05,379) scale(1,1.12)" font-size="6.3" fill="#111" stroke="#111" stroke-width="0.1">3</text><text transform="translate(200.3,358.07) scale(1,1.12)" font-size="8" text-anchor="end" fill="#111" stroke="#111" stroke-width="0.1">10</text><text transform="translate(201.05,354.38) scale(1,1.12)" font-size="6.3" fill="#111" stroke="#111" stroke-width="0.1">4</text><text transform="translate(200.3,333.45) scale(1,1.12)" font-size="8" text-anchor="end" fill="#111" stroke="#111" stroke-width="0.1">10</text><text transform="translate(201.05,329.75) scale(1,1.12)" font-size="6.3" fill="#111" stroke="#111" stroke-width="0.1">5</text><text transform="translate(200.3,308.82) scale(1,1.12)" font-size="8" text-anchor="end" fill="#111" stroke="#111" stroke-width="0.1">10</text><text transform="translate(201.05,305.12) scale(1,1.12)" font-size="6.3" fill="#111" stroke="#111" stroke-width="0.1">6</text><text transform="translate(200.3,284.2) scale(1,1.12)" font-size="8" text-anchor="end" fill="#111" stroke="#111" stroke-width="0.1">10</text><text transform="translate(201.05,280.5) scale(1,1.12)" font-size="6.3" fill="#111" stroke="#111" stroke-width="0.1">7</text><text transform="translate(210.05,395.1) scale(1,1.12)" font-size="8" text-anchor="end" fill="#111" stroke="#111" stroke-width="0.1">10</text><text transform="translate(210.05,390.8) scale(1,1.1)" font-size="5.5" fill="#111" stroke="#111" stroke-width="0.1">-3</text><text transform="translate(249.6,395.1) scale(1,1.12)" font-size="8" text-anchor="end" fill="#111" stroke="#111" stroke-width="0.1">10</text><text transform="translate(249.6,390.8) scale(1,1.1)" font-size="5.5" fill="#111" stroke="#111" stroke-width="0.1">-2</text><text transform="translate(289.15,395.1) scale(1,1.12)" font-size="8" text-anchor="end" fill="#111" stroke="#111" stroke-width="0.1">10</text><text transform="translate(289.15,390.8) scale(1,1.1)" font-size="5.5" fill="#111" stroke="#111" stroke-width="0.1">-1</text><text transform="translate(329.1,395.1) scale(1,1.12)" font-size="8" text-anchor="end" fill="#111" stroke="#111" stroke-width="0.1">10</text><text transform="translate(329.2,390.8) scale(1,1.1)" font-size="5.5" fill="#111" stroke="#111" stroke-width="0.1">0</text><text x="267.18" y="402.7" font-size="8.2" text-anchor="middle" fill="#111" stroke="#111" stroke-width="0.1">γ [%]</text><text transform="translate(178.45,325.7) rotate(-90)" font-size="8.3" fill="#111" stroke="#111" stroke-width="0.1">G″ (</text><text transform="translate(178.45,302.5) rotate(-90)" font-size="8.3" fill="#111" stroke="#111" stroke-width="0.1">)</text><rect x="174.45" y="304.85" width="4" height="4" fill="#fff" stroke="#222" stroke-width="0.75"/><text transform="translate(189.65,314.1) rotate(-90)" font-size="8.3" text-anchor="middle" fill="#111" stroke="#111" stroke-width="0.1">[Pa]</text><text transform="translate(178.45,365.3) rotate(-90)" font-size="8.3" fill="#111" stroke="#111" stroke-width="0.1">G′ (</text><text transform="translate(178.45,343.25) rotate(-90)" font-size="8.3" fill="#111" stroke="#111" stroke-width="0.1">)</text><circle cx="176.95" cy="348.2" r="3.5" fill="#111"/><text transform="translate(189.65,353.6) rotate(-90)" font-size="8.3" text-anchor="middle" fill="#111" stroke="#111" stroke-width="0.1">[Pa]</text><text transform="translate(316,374.7) scale(1,1.06)" font-size="9.6" text-anchor="end" fill="#111" stroke="#111" stroke-width="0.1">C</text><text transform="translate(302.56,374.7) scale(1,1.06)" font-size="9.6" text-anchor="end" fill="#111" stroke="#111" stroke-width="0.1">490</text><circle cx="306.9" cy="369" r="0.95" fill="none" stroke="#111" stroke-width="0.85"/><rect x="226.85" y="302.25" width="3.3" height="3.3" fill="#fff" stroke="#000" stroke-width="0.75"/><rect x="230.76" y="303.95" width="3.3" height="3.3" fill="#fff" stroke="#000" stroke-width="0.75"/><rect x="234.67" y="303.15" width="3.3" height="3.3" fill="#fff" stroke="#000" stroke-width="0.75"/><rect x="238.58" y="302.35" width="3.3" height="3.3" fill="#fff" stroke="#000" stroke-width="0.75"/><rect x="242.49" y="303.05" width="3.3" height="3.3" fill="#fff" stroke="#000" stroke-width="0.75"/><rect x="246.4" y="303.45" width="3.3" height="3.3" fill="#fff" stroke="#000" stroke-width="0.75"/><rect x="250.3" y="303.55" width="3.3" height="3.3" fill="#fff" stroke="#000" stroke-width="0.75"/><rect x="254.21" y="303.61" width="3.3" height="3.3" fill="#fff" stroke="#000" stroke-width="0.75"/><rect x="258.12" y="303.68" width="3.3" height="3.3" fill="#fff" stroke="#000" stroke-width="0.75"/><rect x="262.03" y="303.74" width="3.3" height="3.3" fill="#fff" stroke="#000" stroke-width="0.75"/><rect x="265.94" y="303.81" width="3.3" height="3.3" fill="#fff" stroke="#000" stroke-width="0.75"/><rect x="269.85" y="303.96" width="3.3" height="3.3" fill="#fff" stroke="#000" stroke-width="0.75"/><rect x="273.76" y="304.26" width="3.3" height="3.3" fill="#fff" stroke="#000" stroke-width="0.75"/><rect x="277.67" y="304.55" width="3.3" height="3.3" fill="#fff" stroke="#000" stroke-width="0.75"/><rect x="281.58" y="304.84" width="3.3" height="3.3" fill="#fff" stroke="#000" stroke-width="0.75"/><rect x="285.49" y="305.16" width="3.3" height="3.3" fill="#fff" stroke="#000" stroke-width="0.75"/><rect x="289.4" y="305.52" width="3.3" height="3.3" fill="#fff" stroke="#000" stroke-width="0.75"/><rect x="293.3" y="305.88" width="3.3" height="3.3" fill="#fff" stroke="#000" stroke-width="0.75"/><rect x="297.21" y="306.24" width="3.3" height="3.3" fill="#fff" stroke="#000" stroke-width="0.75"/><rect x="301.12" y="306.73" width="3.3" height="3.3" fill="#fff" stroke="#000" stroke-width="0.75"/><rect x="305.03" y="307.27" width="3.3" height="3.3" fill="#fff" stroke="#000" stroke-width="0.75"/><rect x="308.94" y="307.81" width="3.3" height="3.3" fill="#fff" stroke="#000" stroke-width="0.75"/><rect x="312.85" y="308.35" width="3.3" height="3.3" fill="#fff" stroke="#000" stroke-width="0.75"/><circle cx="228.5" cy="308.2" r="2.3" fill="#000"/><circle cx="232.41" cy="306.6" r="2.3" fill="#000"/><circle cx="236.32" cy="304.59" r="2.3" fill="#000"/><circle cx="240.23" cy="302.69" r="2.3" fill="#000"/><circle cx="244.14" cy="301.62" r="2.3" fill="#000"/><circle cx="248.05" cy="300.54" r="2.3" fill="#000"/><circle cx="251.95" cy="299.59" r="2.3" fill="#000"/><circle cx="255.86" cy="298.78" r="2.3" fill="#000"/><circle cx="259.77" cy="297.96" r="2.3" fill="#000"/><circle cx="263.68" cy="297.24" r="2.3" fill="#000"/><circle cx="267.59" cy="296.64" r="2.3" fill="#000"/><circle cx="271.5" cy="296.04" r="2.3" fill="#000"/><circle cx="275.41" cy="295.46" r="2.3" fill="#000"/><circle cx="279.32" cy="295.07" r="2.3" fill="#000"/><circle cx="283.23" cy="294.68" r="2.3" fill="#000"/><circle cx="287.14" cy="294.29" r="2.3" fill="#000"/><circle cx="291.05" cy="293.95" r="2.3" fill="#000"/><circle cx="294.95" cy="293.78" r="2.3" fill="#000"/><circle cx="298.86" cy="293.6" r="2.3" fill="#000"/><circle cx="302.77" cy="293.43" r="2.3" fill="#000"/><circle cx="306.68" cy="293.25" r="2.3" fill="#000"/><circle cx="310.59" cy="293.08" r="2.3" fill="#000"/><circle cx="314.5" cy="292.9" r="2.3" fill="#000"/></g>
</svg></body></html>
